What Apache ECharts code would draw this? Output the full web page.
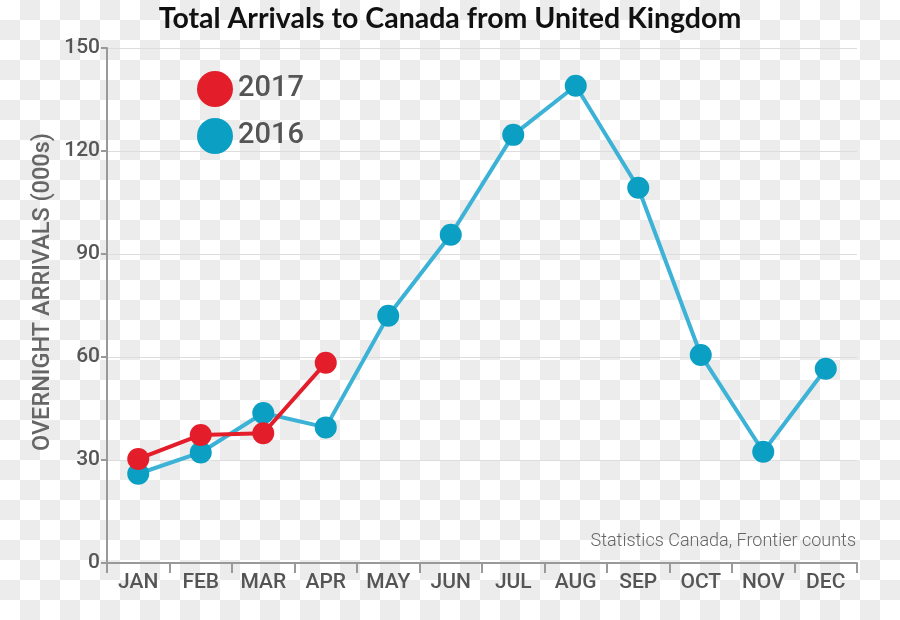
<!DOCTYPE html>
<html>
<head>
<meta charset="utf-8">
<script src="https://cdn.jsdelivr.net/npm/echarts@6/dist/echarts.min.js"></script>
<style>
html,body{margin:0;padding:0;}
body{
  width:900px;height:620px;
  background-color:#fff;
  background-image:conic-gradient(#ececec 0 25%, #fff 0 50%, #ececec 0 75%, #fff 0);
  background-size:40px 40px;
}
#chart{width:900px;height:620px;}
</style>
</head>
<body>
<div id="chart"></div>
<script>
const categories = ['JAN','FEB','MAR','APR','MAY','JUN','JUL','AUG','SEP','OCT','NOV','DEC'];
const values2016 = [26.0, 32.2, 43.7, 39.5, 72.0, 95.6, 124.7, 139.0, 109.3, 60.6, 32.4, 56.6];
const values2017 = [30.3, 37.3, 37.8, 58.3];
const yTicks = [0, 30, 60, 90, 120, 150];

const labelFont = "Roboto, 'Liberation Sans', sans-serif";
const chart = echarts.init(document.getElementById('chart'), null, {renderer:'canvas'});
chart.setOption({
  backgroundColor: 'transparent',
  animation: false,
  title: {
    text: 'Total Arrivals to Canada from United Kingdom',
    left: 'center', top: -1,
    textStyle: {fontFamily: "Lato, 'Noto Sans', sans-serif", fontWeight: 'bold', fontSize: 28.5, color: '#111'}
  },
  legend: {
    data: ['2017','2016'],
    orient: 'vertical',
    left: 192, top: 66,
    icon: 'circle',
    itemWidth: 36, itemHeight: 36, itemGap: 11,
    textStyle: {fontFamily: labelFont, fontWeight: 500, fontSize: 29, color: '#555'}
  },
  graphic: [{
    type: 'text', right: 44, top: 532,
    style: {text: 'Statistics Canada, Frontier counts', fill: '#666',
      font: "300 18px Roboto, 'Liberation Sans', sans-serif"}
  }],
  grid: {left: 107, right: 43, top: 48, bottom: 57},
  xAxis: {
    type: 'category', data: categories, boundaryGap: true,
    axisLine: {lineStyle: {color: '#999', width: 2}},
    axisTick: {show: true, length: 10, inside: false, lineStyle: {color: '#999', width: 2}},
    axisLabel: {fontFamily: labelFont, fontWeight: 500, fontSize: 21, color: '#555', margin: 9},
    splitLine: {show: false}
  },
  yAxis: {
    type: 'value', min: yTicks[0], max: yTicks[yTicks.length-1], interval: 30,
    name: 'OVERNIGHT ARRIVALS (000s)', nameLocation: 'middle', nameRotate: 90, nameGap: 52,
    nameMoveOverlap: false,
    nameTextStyle: {fontFamily: labelFont, fontWeight: 500, fontSize: 23.5, color: '#666', padding: [0,0,0,27]},
    axisLine: {show: true, lineStyle: {color: '#999', width: 2}},
    axisTick: {show: true, length: 6, lineStyle: {color: '#999', width: 2}},
    axisLabel: {fontFamily: labelFont, fontWeight: 500, fontSize: 21, color: '#555', margin: 7},
    splitLine: {show: true, lineStyle: {color: '#ddd', width: 1}}
  },
  series: [
    {
      name: '2016', type: 'line', data: values2016,
      symbol: 'circle', symbolSize: 22,
      itemStyle: {color: '#0b9fc4'},
      lineStyle: {color: '#3cb2d6', width: 4},
      z: 2
    },
    {
      name: '2017', type: 'line', data: values2017,
      symbol: 'circle', symbolSize: 22,
      itemStyle: {color: '#e31e2a'},
      lineStyle: {color: '#e31e2a', width: 4},
      z: 3
    }
  ]
});
</script>
</body>
</html>
